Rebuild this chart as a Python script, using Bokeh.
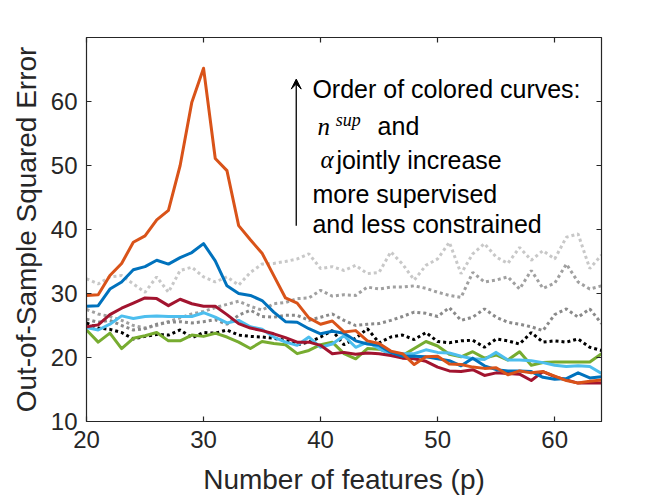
from bokeh.plotting import figure
from bokeh.models import Range1d, FixedTicker, LinearAxis, Label, Arrow, VeeHead
from bokeh.embed import file_html
from bokeh.resources import INLINE

p_vals = list(range(20, 65))

orange = [29.7, 29.8, 32.8, 34.7, 38.0, 39.0, 41.5, 43.0, 50.0, 59.9, 65.2, 51.1, 49.2, 40.6, 38.4,
          36.3, 32.8, 29.3, 28.5, 26.2, 25.2, 25.7, 24.0, 24.2, 22.6, 22.2, 21.0, 20.6, 18.9, 20.1,
          20.2, 19.0, 18.9, 18.5, 18.3, 18.4, 17.3, 17.9, 17.6, 17.8, 17.1, 16.4, 16.0, 16.3, 16.5]
blue = [28.0, 28.1, 30.7, 31.8, 33.7, 34.2, 35.2, 34.6, 35.6, 36.4, 37.8, 35.1, 31.2, 30.0, 29.7,
        28.9, 27.1, 25.6, 25.5, 24.5, 23.7, 24.1, 23.8, 22.6, 22.1, 21.9, 20.8, 20.2, 20.2, 20.1,
        19.8, 19.5, 18.7, 19.9, 18.7, 18.1, 17.9, 17.9, 17.8, 16.9, 16.6, 16.7, 17.6, 16.8, 17.0]
darkred = [24.8, 25.1, 26.7, 27.7, 28.5, 29.3, 29.2, 28.1, 29.1, 28.4, 28.0, 28.0, 26.7, 25.3, 24.6,
           24.2, 23.7, 23.1, 22.4, 22.4, 21.9, 20.6, 20.8, 20.5, 20.7, 20.6, 20.3, 19.9, 19.8, 19.4,
           18.5, 17.9, 17.8, 18.1, 17.2, 17.6, 17.5, 17.4, 16.4, 17.8, 17.0, 16.5, 16.0, 16.0, 16.0]
lightblue = [24.7, 24.3, 25.2, 26.5, 26.1, 26.4, 26.5, 26.4, 26.4, 26.4, 27.0, 26.3, 25.4, 25.8, 24.8,
             24.4, 23.2, 22.4, 21.9, 23.2, 21.6, 22.1, 23.4, 21.6, 22.4, 21.4, 20.5, 20.6, 20.6, 21.2,
             20.8, 20.7, 20.2, 19.8, 19.7, 20.8, 19.6, 19.6, 19.5, 19.2, 18.8, 18.6, 18.7, 18.6, 17.5]
green = [24.3, 22.4, 23.8, 21.4, 23.0, 23.4, 23.9, 22.6, 22.6, 23.5, 23.3, 23.8, 23.2, 22.4, 21.4,
         22.5, 22.2, 22.0, 20.6, 21.1, 22.0, 22.4, 20.6, 19.8, 21.4, 21.3, 20.7, 20.3, 21.4, 22.5,
         21.8, 20.5, 20.1, 20.9, 19.9, 20.4, 19.6, 20.9, 18.8, 19.2, 19.3, 19.3, 19.3, 19.3, 20.6]
black_dot = [25.4, 24.6, 24.4, 23.9, 22.9, 23.3, 23.6, 23.5, 24.3, 23.1, 23.9, 23.8, 24.3, 23.5, 23.3,
             23.2, 23.0, 22.7, 22.0, 22.4, 23.2, 24.2, 22.0, 23.0, 24.5, 22.3, 23.2, 23.5, 22.8, 23.9,
             22.5, 22.3, 22.6, 22.7, 21.6, 22.9, 22.6, 22.1, 23.9, 22.4, 22.6, 22.4, 22.9, 21.6, 21.1]
gray_dot = [26.0, 25.5, 25.8, 25.0, 24.3, 24.5, 25.2, 25.5, 25.6, 25.4, 25.6, 25.9, 25.2, 26.6, 27.4,
            26.4, 26.3, 26.6, 26.6, 25.8, 26.3, 26.8, 25.8, 25.0, 25.2, 25.3, 25.8, 26.4, 27.1, 26.9,
            26.4, 27.8, 25.8, 26.3, 27.6, 26.3, 25.5, 25.2, 24.8, 24.2, 26.7, 27.6, 26.3, 27.6, 25.3]
midgray_dot = [27.5, 26.8, 26.4, 25.8, 25.0, 24.6, 25.0, 25.6, 26.2, 26.8, 27.2, 27.8, 28.3, 28.8, 28.0,
               27.4, 28.4, 28.6, 29.2, 29.3, 30.5, 29.6, 29.8, 29.7, 31.0, 30.7, 31.0, 31.0, 31.2, 30.8,
               30.2, 29.7, 29.4, 33.3, 31.8, 32.1, 32.6, 30.7, 33.6, 30.8, 31.6, 34.6, 31.8, 30.7, 31.2]
lightgray_dot = [32.3, 31.5, 32.6, 32.8, 31.5, 30.2, 32.6, 30.2, 33.6, 34.1, 32.6, 31.8, 32.6, 31.3, 33.3,
                 34.6, 34.7, 35.0, 35.4, 36.2, 33.9, 34.2, 33.6, 34.4, 33.1, 33.3, 36.5, 34.6, 32.1, 34.4,
                 35.4, 38.0, 33.1, 36.2, 37.8, 35.7, 34.7, 37.2, 35.2, 36.7, 35.4, 38.8, 39.3, 33.9, 36.0]

x_ticks = [20, 30, 40, 50, 60]
y_ticks = [10, 20, 30, 40, 50, 60]

AX = "#262626"
FONT = "Liberation Sans"

p = figure(frame_width=515, frame_height=384, output_backend="svg", toolbar_location=None,
           x_range=Range1d(20, 64), y_range=Range1d(10, 70),
           min_border_left=86, min_border_right=40, min_border_top=37, min_border_bottom=60)
p.xgrid.visible = False
p.ygrid.visible = False
p.outline_line_color = AX
p.background_fill_color = "white"
p.border_fill_color = "white"

def style_axis(ax, ticks, show_labels):
    ax.ticker = FixedTicker(ticks=ticks)
    ax.axis_line_color = AX
    ax.axis_line_width = 1.2
    ax.major_tick_line_color = AX
    ax.major_tick_line_width = 1.2
    ax.major_tick_in = 5
    ax.major_tick_out = 0
    ax.minor_tick_line_color = None
    ax.major_label_text_font = FONT
    ax.major_label_text_color = AX
    if show_labels:
        ax.major_label_text_font_size = "24px"
    else:
        ax.major_label_text_color = None
        ax.major_label_text_alpha = 0
        ax.major_label_text_font_size = "1px"
        ax.major_label_standoff = 0

style_axis(p.xaxis[0], x_ticks, True)
style_axis(p.yaxis[0], y_ticks, True)
p.xaxis[0].major_label_standoff = 9
p.yaxis[0].major_label_standoff = 9
p.xaxis[0].axis_label = "Number of features (p)"
p.yaxis[0].axis_label = "Out-of-Sample Squared Error"
for ax in (p.xaxis[0], p.yaxis[0]):
    ax.axis_label_text_font = FONT
    ax.axis_label_text_font_size = "28px"
    ax.axis_label_text_font_style = "normal"
    ax.axis_label_text_color = AX
p.xaxis[0].axis_label_standoff = 13
p.yaxis[0].axis_label_standoff = 6

top = LinearAxis()
style_axis(top, x_ticks, False)
p.add_layout(top, "above")
right = LinearAxis()
style_axis(right, y_ticks, False)
p.add_layout(right, "right")

dotted = [(lightgray_dot, "#c8c8c8"), (midgray_dot, "#a0a0a0"), (gray_dot, "#8a8a8a"), (black_dot, "#000000")]
for ys, c in dotted:
    p.line(p_vals, ys, line_color=c, line_width=3, line_dash="3 3")

solid = [(green, "#77AC30"), (lightblue, "#4DBEEE"), (darkred, "#A2142F"), (blue, "#0072BD"), (orange, "#D95319")]
for ys, c in solid:
    p.line(p_vals, ys, line_color=c, line_width=3, line_join="round")

def lab(x, y, t, size="25px", font=FONT, style="normal"):
    p.add_layout(Label(x=x, y=y, text=t, text_font=font, text_font_size=size,
                       text_font_style=style, text_color="black", text_baseline="alphabetic"))

lab(39.3, 62.0, "Order of colored curves:")
lab(39.74, 56.1, "n", font="Liberation Serif", style="italic")
lab(41.3, 57.1, "sup", size="18px", font="Liberation Serif", style="italic")
lab(44.87, 56.1, "and")
lab(40.0, 50.9, "α", font="Liberation Serif", style="italic")
lab(41.35, 50.9, "jointly increase")
lab(39.3, 45.6, "more supervised")
lab(39.3, 40.8, "and less constrained")

p.add_layout(Arrow(x_start=37.92, y_start=40.6, x_end=37.92, y_end=63.5, line_color="black", line_width=1.3,
                   end=VeeHead(size=10, fill_color="black", line_color="black")))

open("out.html", "w").write(file_html(p, INLINE))
